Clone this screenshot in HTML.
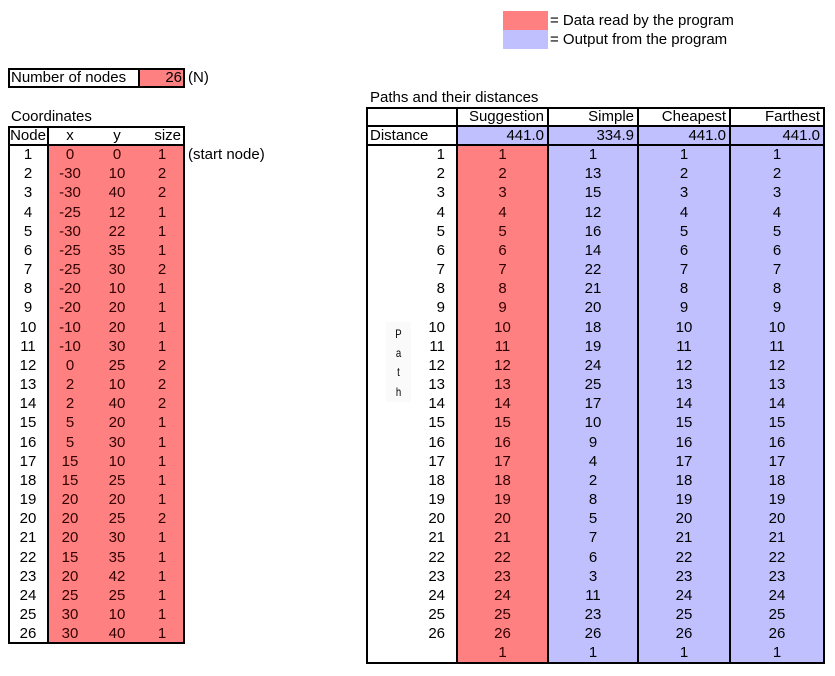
<!DOCTYPE html>
<html><head><meta charset="utf-8">
<style>
html,body{margin:0;padding:0;background:#fff;}
body{width:835px;height:676px;position:relative;overflow:hidden;font-family:"Liberation Sans",Arial,sans-serif;font-size:15px;color:#000;}
.a{position:absolute;box-sizing:border-box;}
.t{position:absolute;white-space:nowrap;line-height:19px;height:19px;}
.red{background:#ff8080;}
.blue{background:#c0c0ff;}
.bd{border:2px solid #000;}
.rt{color:#300;}
</style></head><body>
<div class="a red" style="left:503px;top:11px;width:45px;height:19px"></div>
<div class="a blue" style="left:503px;top:30px;width:45px;height:19px"></div>
<div class="t" style="left:550px;top:11px">= Data read by the program</div>
<div class="t" style="left:550px;top:30px">= Output from the program</div>

<div class="a bd" style="left:8px;top:68px;width:177px;height:20px"></div>
<div class="a red" style="left:138px;top:70px;width:45px;height:16px;border-left:2px solid #000"></div>
<div class="t" style="left:11px;top:68px">Number of nodes</div>
<div class="t" style="left:138px;top:68px;width:44px;text-align:right">26</div>
<div class="t" style="left:188px;top:68px">(N)</div>

<div class="t" style="left:11px;top:107px">Coordinates</div>
<div class="t" style="left:370px;top:88px">Paths and their distances</div>

<script>
const nodes=[1,2,3,4,5,6,7,8,9,10,11,12,13,14,15,16,17,18,19,20,21,22,23,24,25,26];
const xs=[0,-30,-30,-25,-30,-25,-25,-20,-20,-10,-10,0,2,2,5,5,15,15,20,20,20,15,20,25,30,30];
const ys=[0,10,40,12,22,35,30,10,20,20,30,25,10,40,20,30,10,25,20,25,30,35,42,25,10,40];
const sizes=[1,2,2,1,1,1,2,1,1,1,1,2,2,2,1,1,1,1,1,2,1,1,1,1,1,1];
const pathNames=["Suggestion","Simple","Cheapest","Farthest"];
const distances=["441.0","334.9","441.0","441.0"];
const suggestion=[1,2,3,4,5,6,7,8,9,10,11,12,13,14,15,16,17,18,19,20,21,22,23,24,25,26,1];
const simple=[1,13,15,12,16,14,22,21,20,18,19,24,25,17,10,9,4,2,8,5,7,6,3,11,23,26,1];
const cheapest=[1,2,3,4,5,6,7,8,9,10,11,12,13,14,15,16,17,18,19,20,21,22,23,24,25,26,1];
const farthest=[1,2,3,4,5,6,7,8,9,10,11,12,13,14,15,16,17,18,19,20,21,22,23,24,25,26,1];
const RH=19.17, Y0=145;
function box(l,t,w,h,cls,name,inter){
  const d=document.createElement('div');
  d.className='a '+(cls||'');
  d.style.left=l+'px';d.style.top=t+'px';d.style.width=w+'px';d.style.height=h+'px';
  
  
  document.body.appendChild(d);return d;
}
function txt(l,t,w,s,align,name,cls){
  const d=document.createElement('div');
  d.className='t '+(cls||'');
  d.style.left=l+'px';d.style.top=t+'px';d.style.width=w+'px';d.style.textAlign=align;
  d.textContent=s;
  
  
  document.body.appendChild(d);return d;
}
const lBottom=Y0+nodes.length*RH;
box(48,Y0,137,lBottom-Y0,'red','coordinates-input-area',true);
box(8,126,177,lBottom-126+1,'bd','coordinates-table',false);
box(8,144,177,2,'','coords-header-line',false).style.background='#000';
box(47,126,2,lBottom-126,'','coords-node-col-line',false).style.background='#000';
txt(8,126,40,'Node','center','coords-header-node');
txt(55,126,30,'x','center','coords-header-x');
txt(102,126,30,'y','center','coords-header-y');
txt(135,126,46,'size','right','coords-header-size');
nodes.forEach((n,i)=>{
  const y=Y0+i*RH;
  txt(8,y,40,String(n),'center','node-id');
  txt(50,y,40,String(xs[i]),'center','node-x','rt');
  txt(97,y,40,String(ys[i]),'center','node-y','rt');
  txt(145,y,34,String(sizes[i]),'center','node-size','rt');
});
txt(188,Y0,90,'(start node)','left','start-node-note');
const cols=[366,457,548,638,730,824];
const series=[suggestion,simple,cheapest,farthest];
const rBottom=Y0+suggestion.length*RH;
for(let c=0;c<4;c++){
  box(cols[c+1],126,cols[c+2]-cols[c+1],19,'blue','distance-cell-'+pathNames[c].toLowerCase(),false);
  box(cols[c+1],Y0,cols[c+2]-cols[c+1],rBottom-Y0,c===0?'red':'blue','path-column-'+pathNames[c].toLowerCase(),c===0);
}
box(366,107,459,rBottom-107+1,'bd','paths-table',false);
box(366,125,458,2,'','paths-header-line',false).style.background='#000';
box(366,144,458,2,'','paths-distance-line',false).style.background='#000';
for(let c=1;c<5;c++) box(cols[c]-0.9,107,1.8,rBottom-107,'','paths-col-line',false).style.background='#000';
txt(370,126,90,'Distance','left','distance-label');
for(let c=0;c<4;c++){
  txt(cols[c+1],107,cols[c+2]-cols[c+1]-4,pathNames[c],'right','path-header-'+pathNames[c].toLowerCase());
  txt(cols[c+1],126,cols[c+2]-cols[c+1]-4,distances[c],'right','distance-'+pathNames[c].toLowerCase());
  series[c].forEach((v,i)=>{
    txt(cols[c+1],Y0+i*RH,cols[c+2]-cols[c+1],String(v),'center','path-step',c===0?'rt':'');
  });
}
nodes.forEach((n,i)=>txt(400,Y0+i*RH,45,String(n),'right','path-step-index'));
box(386,322,25,80,'','path-label-bg',false).style.background='#fafafa';
['P','a','t','h'].forEach((ch,i)=>{const d=txt(386,325+i*19.2,25,ch,'center','path-vertical-label');d.style.fontSize='12px';d.style.transform='scaleX(0.8)';});
</script>
</body></html>
